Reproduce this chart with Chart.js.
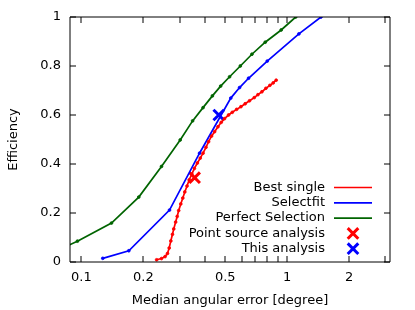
<!DOCTYPE html>
<html>
<head>
<meta charset="utf-8">
<script src="https://cdn.jsdelivr.net/npm/chart.js@4"></script>
<style>
  html, body { margin: 0; padding: 0; background: #fff; }
  #chart { display: block; }
</style>
</head>
<body>
<canvas id="chart" width="415" height="310"></canvas>
<script>
// Данные: Best single
const bestSingleX = [0.232, 0.245, 0.255, 0.262, 0.267, 0.272, 0.277, 0.281, 0.287, 0.292,
    0.297, 0.304, 0.311, 0.318, 0.326, 0.334, 0.344, 0.354, 0.366, 0.378,
    0.390, 0.403, 0.415, 0.429, 0.444, 0.461, 0.478, 0.496, 0.519, 0.541,
    0.568, 0.596, 0.625, 0.656, 0.692, 0.721, 0.754, 0.788, 0.824, 0.855, 0.884];
const bestSingleY = [0.009, 0.014, 0.022, 0.035, 0.057, 0.086, 0.113, 0.135, 0.163, 0.186,
    0.210, 0.237, 0.261, 0.286, 0.310, 0.335, 0.359, 0.382, 0.404, 0.424,
    0.444, 0.468, 0.491, 0.514, 0.532, 0.552, 0.570, 0.585, 0.600, 0.611,
    0.623, 0.634, 0.646, 0.658, 0.671, 0.683, 0.695, 0.709, 0.721, 0.731, 0.742];

// Данные: Selectfit
const selectfitX = [0.127, 0.170, 0.268, 0.375, 0.532, 0.587, 0.649, 0.800, 1.14, 1.46];
const selectfitY = [0.015, 0.046, 0.212, 0.444, 0.669, 0.712, 0.750, 0.820, 0.931, 1.0];

// Данные: Perfect Selection
const perfectX = [0.080, 0.0956, 0.140, 0.190, 0.245, 0.302, 0.347, 0.390, 0.433, 0.475,
    0.525, 0.592, 0.674, 0.782, 0.935, 1.10];
const perfectY = [0.055, 0.085, 0.159, 0.265, 0.390, 0.498, 0.576, 0.630, 0.678, 0.718,
    0.756, 0.800, 0.848, 0.897, 0.947, 1.0];

// Отдельные точки
const pointSourceX = [0.355];
const pointSourceY = [0.344];
const thisAnalysisX = [0.465];
const thisAnalysisY = [0.60];

// Деления осей
const xTickValues = [0.1, 0.2, 0.3, 0.4, 0.5, 0.6, 0.7, 0.8, 0.9, 1, 2, 3];
const xTickLabels = ['0.1', '0.2', '0.5', '1', '2'];
const yTickValues = [0, 0.2, 0.4, 0.6, 0.8, 1];

const FONT = '"DejaVu Sans", sans-serif';

function zip(xs, ys) {
    return xs.map((x, i) => ({ x: x, y: ys[i] }));
}

function lineSet(label, xs, ys, color) {
    return {
        label: label,
        data: zip(xs, ys),
        borderColor: color,
        backgroundColor: color,
        borderWidth: 1.7,
        pointRadius: 1.4,
        pointBorderWidth: 0.8,
        pointHoverRadius: 1.4,
        tension: 0,
        fill: false
    };
}

function crossSet(label, xs, ys, color) {
    return {
        label: label,
        data: zip(xs, ys),
        borderColor: color,
        backgroundColor: color,
        showLine: false,
        pointStyle: 'crossRot',
        pointRadius: 7.5,
        pointHoverRadius: 7.5,
        pointBorderWidth: 3
    };
}

// Рамка и засечки внутрь
const framePlugin = {
    id: 'frame',
    afterDatasetsDraw(chart) {
        const { ctx, chartArea: a, scales: { x, y } } = chart;
        ctx.save();
        ctx.strokeStyle = '#000';
        ctx.lineWidth = 1;
        ctx.beginPath();
        ctx.rect(a.left, a.top, a.right - a.left, a.bottom - a.top);
        xTickValues.forEach(v => {
            const px = Math.round(x.getPixelForValue(v));
            ctx.moveTo(px, a.bottom);
            ctx.lineTo(px, a.bottom - 6);
            ctx.moveTo(px, a.top);
            ctx.lineTo(px, a.top + 6);
        });
        yTickValues.forEach(v => {
            const py = Math.round(y.getPixelForValue(v));
            ctx.moveTo(a.left, py);
            ctx.lineTo(a.left + 6, py);
            ctx.moveTo(a.right, py);
            ctx.lineTo(a.right - 6, py);
        });
        ctx.stroke();
        ctx.restore();
    }
};

// Легенда в стиле gnuplot: текст справа налево, образец справа
const keyPlugin = {
    id: 'key',
    afterDraw(chart) {
        const ctx = chart.ctx;
        ctx.save();
        ctx.font = '13px ' + FONT;
        ctx.textAlign = 'right';
        ctx.textBaseline = 'middle';
        chart.data.datasets.forEach((ds, i) => {
            const yy = 187.5 + i * 15.3;
            ctx.fillStyle = '#000';
            ctx.fillText(ds.label, 325, yy);
            ctx.strokeStyle = ds.borderColor;
            ctx.beginPath();
            if (ds.showLine === false) {
                ctx.lineWidth = 3;
                ctx.moveTo(353 - 5.3, yy - 5.3);
                ctx.lineTo(353 + 5.3, yy + 5.3);
                ctx.moveTo(353 - 5.3, yy + 5.3);
                ctx.lineTo(353 + 5.3, yy - 5.3);
            } else {
                ctx.lineWidth = 1.7;
                ctx.moveTo(334, yy);
                ctx.lineTo(372, yy);
            }
            ctx.stroke();
        });
        ctx.restore();
    }
};

Chart.defaults.font.family = FONT;
Chart.defaults.font.size = 13;
Chart.defaults.color = '#000';

new Chart(document.getElementById('chart'), {
    type: 'line',
    data: {
        datasets: [
            lineSet('Best single', bestSingleX, bestSingleY, '#ff0000'),
            lineSet('Selectfit', selectfitX, selectfitY, '#0000ff'),
            lineSet('Perfect Selection', perfectX, perfectY, '#006400'),
            crossSet('Point source analysis', pointSourceX, pointSourceY, '#ff0000'),
            crossSet('This analysis', thisAnalysisX, thisAnalysisY, '#0000ff')
        ]
    },
    options: {
        responsive: false,
        animation: false,
        events: [],
        layout: {
            padding: { top: 17, right: 25, left: 0, bottom: 0 }
        },
        scales: {
            x: {
                type: 'logarithmic',
                min: 0.088,
                max: 3.16,
                afterBuildTicks: scale => {
                    scale.ticks = xTickValues.map(v => ({ value: v }));
                },
                afterFit: scale => {
                    scale.height = 48;
                },
                ticks: {
                    autoSkip: false,
                    maxRotation: 0,
                    padding: 8,
                    callback: value => {
                        const s = String(Number(value.toFixed(2)));
                        return xTickLabels.includes(s) ? s : '';
                    }
                },
                grid: { display: false, drawTicks: false },
                border: { display: false },
                title: {
                    display: true,
                    text: 'Median angular error [degree]',
                    padding: { top: 0, bottom: 1.5 }
                }
            },
            y: {
                min: 0,
                max: 1,
                afterBuildTicks: scale => {
                    scale.ticks = yTickValues.map(v => ({ value: v }));
                },
                afterFit: scale => {
                    scale.width = 70;
                },
                ticks: {
                    padding: 9,
                    callback: value => String(Number(value.toFixed(1)))
                },
                grid: { display: false, drawTicks: false },
                border: { display: false },
                title: {
                    display: true,
                    text: 'Efficiency',
                    padding: { top: 5.5, bottom: 0 }
                }
            }
        },
        plugins: {
            legend: { display: false },
            tooltip: { enabled: false }
        }
    },
    plugins: [framePlugin, keyPlugin]
});
</script>
</body>
</html>
